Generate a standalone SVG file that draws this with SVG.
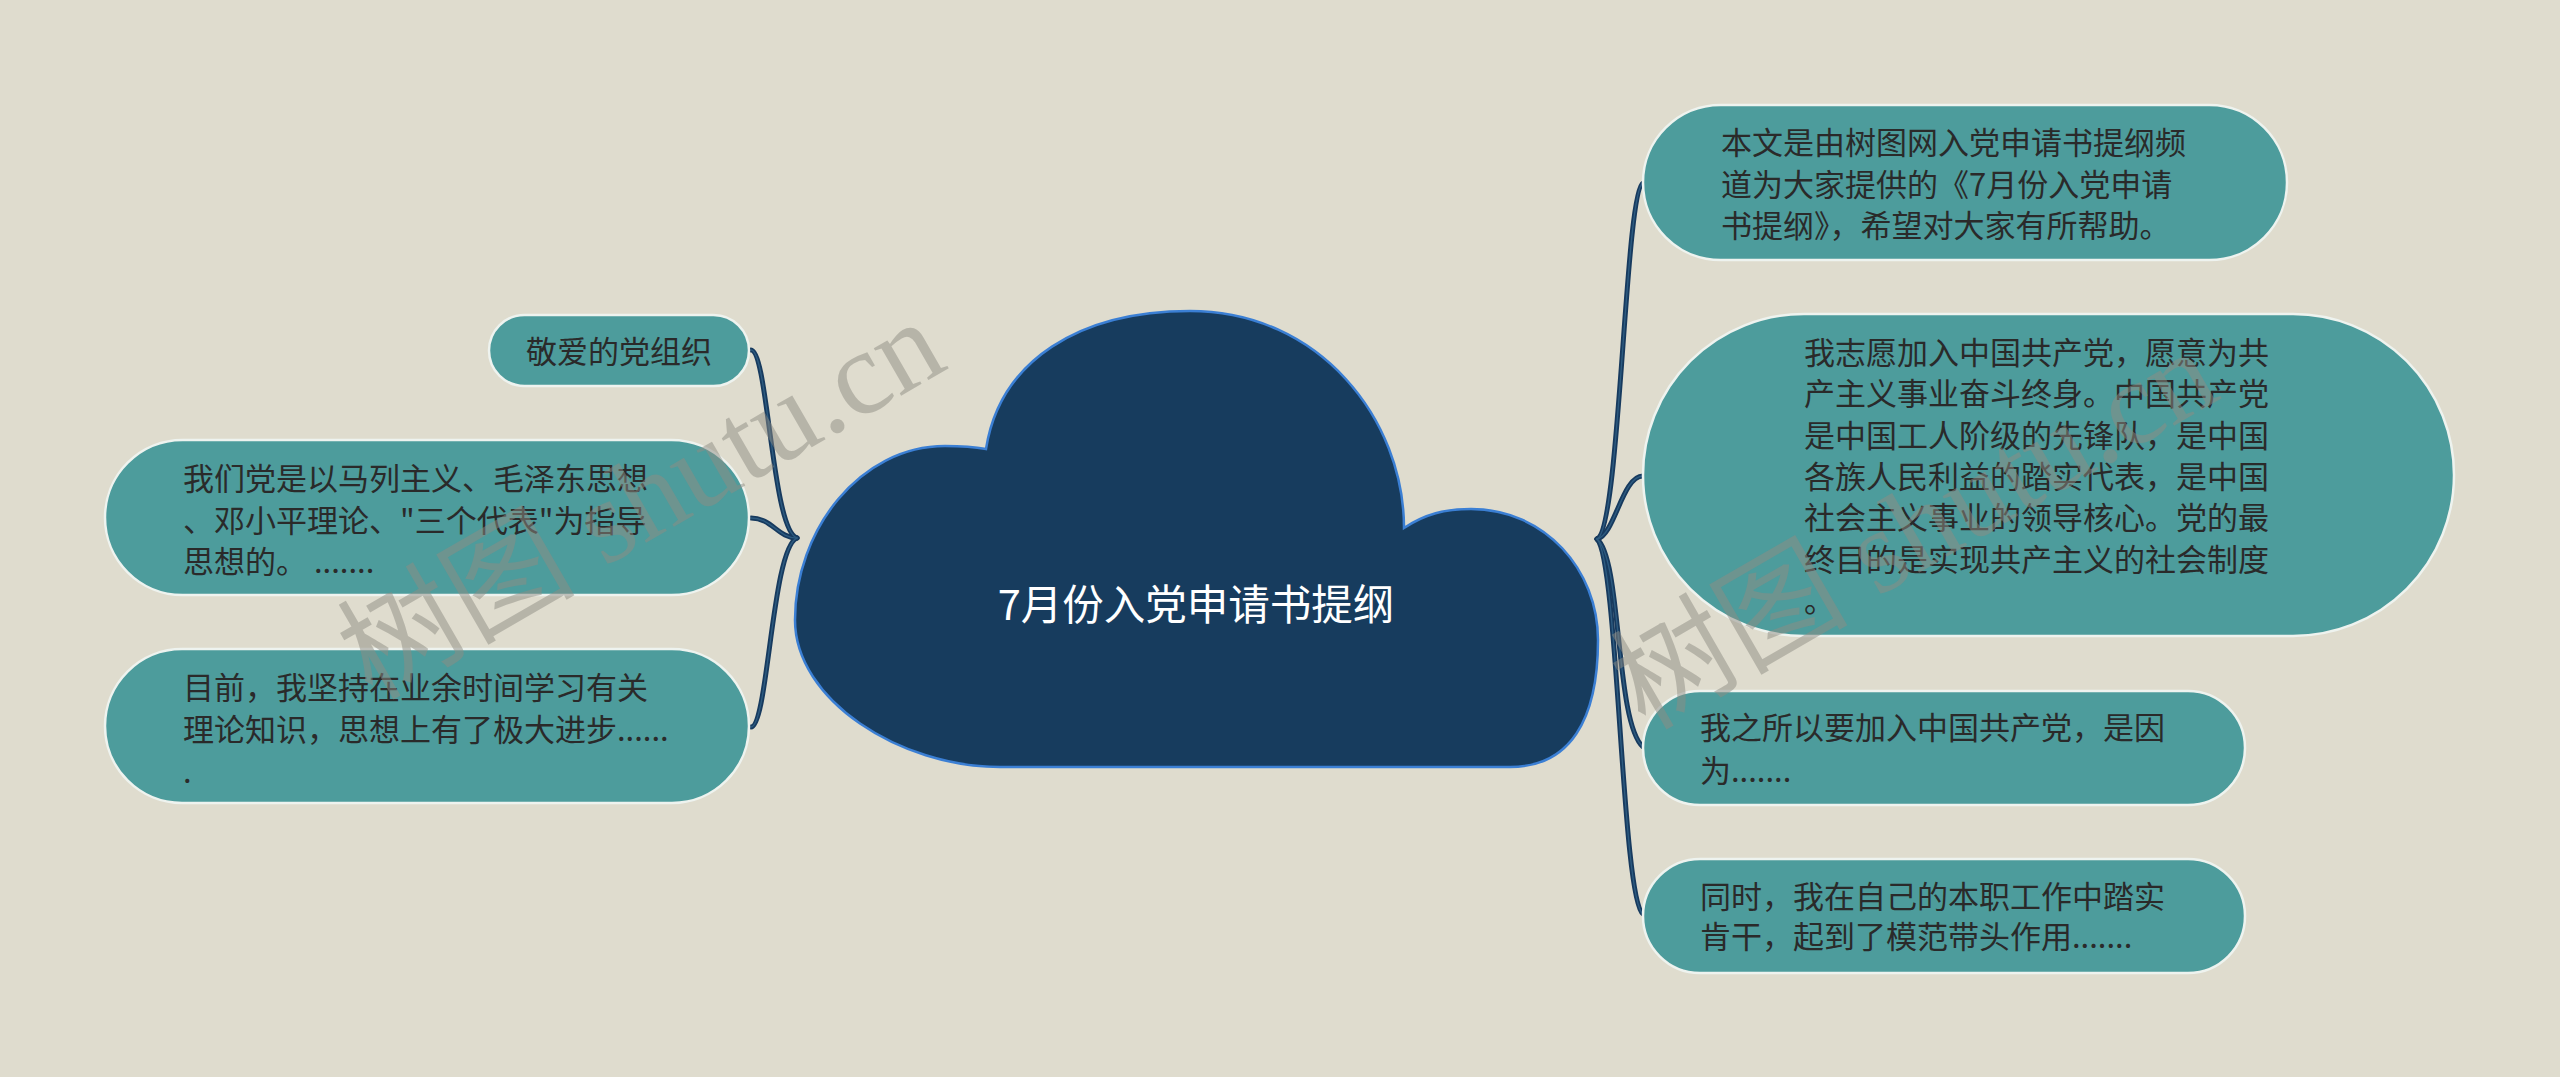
<svg xmlns="http://www.w3.org/2000/svg" width="2560" height="1077" viewBox="0 0 2560 1077">
<style>
.bg{fill:#dfdcce}
.node rect{fill:#4d9c9c;stroke:#eef3ef;stroke-width:2.5}
.node text{font-family:"Noto Sans CJK SC","Liberation Sans",sans-serif;font-size:31px;fill:#2a2a2a}
.conn path{fill:none;stroke:#173a5e;stroke-width:5;stroke-linecap:round}
.conn path.in{stroke:#2d5b80;stroke-width:1.4}
.center path{fill:#173c5e;stroke:#3b7fd4;stroke-width:2.5}
.center text{font-family:"Noto Sans CJK SC","Liberation Sans",sans-serif;font-size:41.5px;fill:#ffffff}
.wm{font-family:"Liberation Serif","Noto Sans CJK SC",serif;font-size:119px;fill:#8f8d84;opacity:0.5}
</style>
<rect class="bg" x="0" y="0" width="2560" height="1077"/>
<g class="conn" id="connectors">
  <path d="M751 350 C768 350 772 530 797 538"/>
  <path d="M751 518 C772 518 778 538 797 538"/>
  <path d="M751 727 C768 727 772 548 797 538"/>
  <path d="M1597 539 C1620 530 1625 190 1643 183"/>
  <path d="M1597 539 C1615 535 1622 476 1643 476"/>
  <path d="M1597 539 C1622 560 1615 722 1643 747"/>
  <path d="M1597 539 C1618 560 1622 900 1643 914"/>
  <path class="in" d="M751 350 C768 350 772 530 797 538"/>
  <path class="in" d="M751 518 C772 518 778 538 797 538"/>
  <path class="in" d="M751 727 C768 727 772 548 797 538"/>
  <path class="in" d="M1597 539 C1620 530 1625 190 1643 183"/>
  <path class="in" d="M1597 539 C1615 535 1622 476 1643 476"/>
  <path class="in" d="M1597 539 C1622 560 1615 722 1643 747"/>
  <path class="in" d="M1597 539 C1618 560 1622 900 1643 914"/>
</g>
<g class="center" id="node-root">
  <path d="M986 449 C1000 360 1080 311 1190 311 C1320 311 1404 420 1404 528 C1425 514 1445 509 1471 509 C1545 509 1598 570 1598 640 C1598 720 1570 767 1510 767 L1000 767 C900 767 795 700 795 620 C795 530 860 446 945 446 C962 446 975 447 986 449 Z"/>
  <text x="1196" y="620" text-anchor="middle">7月份入党申请书提纲</text>
</g>
<g class="node" id="node-l1">
  <rect x="489" y="315" width="260" height="71" rx="35.5"/>
  <text x="526" y="363">敬爱的党组织</text>
</g>
<g class="node" id="node-l2">
  <rect x="105" y="440" width="644" height="155" rx="77.5"/>
  <text x="183" y="490">我们党是以马列主义、毛泽东思想</text>
  <text x="183" y="532">、邓小平理论、"三个代表"为指导</text>
  <text x="183" y="573">思想的。 .......</text>
</g>
<g class="node" id="node-l3">
  <rect x="105" y="649" width="644" height="154" rx="77"/>
  <text x="183" y="699">目前，我坚持在业余时间学习有关</text>
  <text x="183" y="741">理论知识，思想上有了极大进步......</text>
  <text x="183" y="783">.</text>
</g>
<g class="node" id="node-r1">
  <rect x="1643" y="105" width="644" height="155" rx="77.5"/>
  <text x="1721" y="154">本文是由树图网入党申请书提纲频</text>
  <text x="1721" y="196">道为大家提供的《7月份入党申请</text>
  <text x="1721" y="237">书提纲》，希望对大家有所帮助。</text>
</g>
<g class="node" id="node-r2">
  <rect x="1643" y="314" width="811" height="322" rx="161"/>
  <text x="1804" y="364">我志愿加入中国共产党，愿意为共</text>
  <text x="1804" y="405">产主义事业奋斗终身。中国共产党</text>
  <text x="1804" y="447">是中国工人阶级的先锋队，是中国</text>
  <text x="1804" y="488">各族人民利益的踏实代表，是中国</text>
  <text x="1804" y="529">社会主义事业的领导核心。党的最</text>
  <text x="1804" y="571">终目的是实现共产主义的社会制度</text>
  <text x="1804" y="612">。</text>
</g>
<g class="node" id="node-r3">
  <rect x="1643" y="691" width="602" height="114" rx="57"/>
  <text x="1700" y="739">我之所以要加入中国共产党，是因</text>
  <text x="1700" y="782">为.......</text>
</g>
<g class="node" id="node-r4">
  <rect x="1643" y="859" width="602" height="114" rx="57"/>
  <text x="1700" y="908">同时，我在自己的本职工作中踏实</text>
  <text x="1700" y="948">肯干，起到了模范带头作用.......</text>
</g>
<text class="wm" x="372" y="701" transform="rotate(-30 372 701)">树图 shutu.cn</text>
<text class="wm" x="1645" y="731" transform="rotate(-30 1645 731)">树图 shutu.cn</text>
</svg>
